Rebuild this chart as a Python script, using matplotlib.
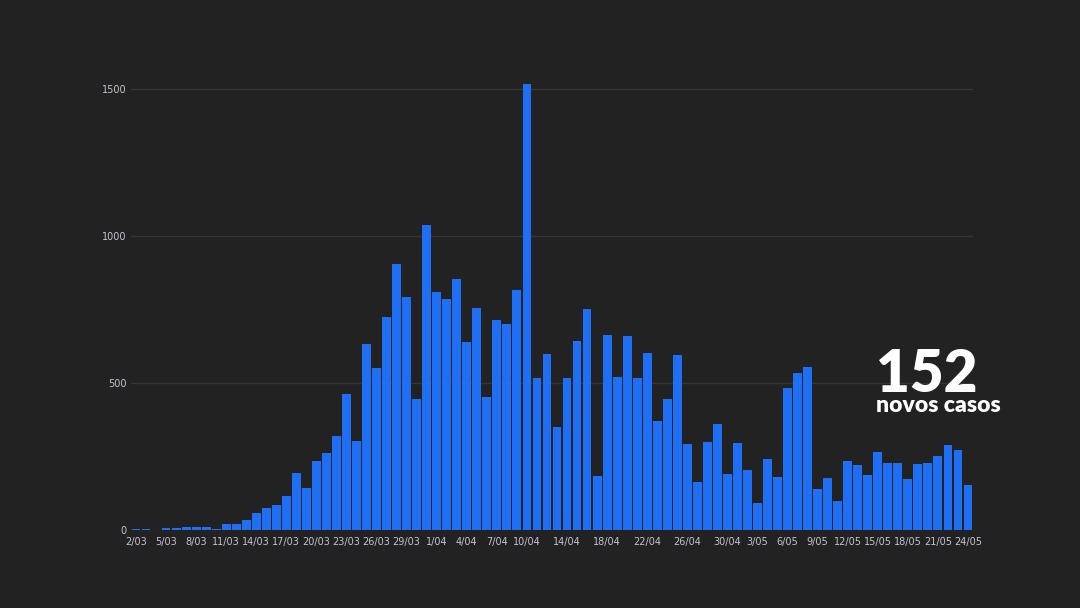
import numpy as np
import matplotlib
matplotlib.use("Agg")
import matplotlib.pyplot as plt

# novos casos diarios, 2/03 a 24/05
dates = [f"{d}/03" for d in range(2, 32)] + \
        [f"{d}/04" for d in range(1, 31)] + \
        [f"{d}/05" for d in range(1, 25)]

cases = [
    2, 2, 1, 6, 6, 10, 10, 10, 2, 19,
    19, 34, 57, 76, 86, 117, 195, 143, 236, 261,
    320, 461, 303, 634, 550, 726, 904, 794, 447, 1037,
    810, 785, 853, 640, 755, 453, 714, 701, 816, 1516,
    516, 599, 350, 516, 644, 752, 183, 663, 522, 659,
    516, 603, 372, 446, 596, 292, 164, 299, 362, 189,
    296, 204, 93, 243, 179, 482, 533, 553, 139, 176,
    99, 235, 220, 188, 265, 228, 227, 173, 224, 229,
    253, 289, 272, 152,
]

tick_labels = ["2/03", "5/03", "8/03", "11/03", "14/03", "17/03", "20/03",
               "23/03", "26/03", "29/03", "1/04", "4/04", "7/04", "10/04",
               "14/04", "18/04", "22/04", "26/04", "30/04", "3/05", "6/05",
               "9/05", "12/05", "15/05", "18/05", "21/05", "24/05"]
y_ticks = [0, 500, 1000, 1500]

bg = "#222222"
bar_color = "#1f6ff5"
text_color = "#c4c2d2"

fig = plt.figure(figsize=(10.8, 6.08), dpi=100, facecolor=bg)
ax = fig.add_axes([0.1213, 0.1283, 0.7796, 0.7737], facecolor=bg)

x = np.arange(len(cases))
ax.bar(x, cases, width=0.88, color=bar_color, zorder=3)

ax.set_xlim(-0.5, len(cases) - 0.5)
ax.set_ylim(0, 1600)

tick_pos = [dates.index(t) for t in tick_labels]
ax.set_xticks(tick_pos)
ax.set_xticklabels(tick_labels)
ax.set_yticks(y_ticks)
ax.tick_params(axis="both", length=0, colors=text_color, labelsize=7)
ax.tick_params(axis="x", pad=5)
ax.tick_params(axis="y", pad=3)

ax.grid(axis="y", color="#353535", linewidth=1, zorder=0)
for s in ax.spines.values():
    s.set_visible(False)

# destaque do ultimo valor
fig.text(0.811, 0.3553, f"{cases[-1]}", color="white", fontsize=42,
         fontweight="heavy", family=["Lato", "DejaVu Sans"], ha="left", va="baseline")
fig.text(0.811, 0.3225, "novos casos", color="white", fontsize=16.5,
         fontweight="heavy", family=["Lato", "DejaVu Sans"], ha="left", va="baseline")

fig.savefig("out.png", dpi=100, facecolor=bg)
